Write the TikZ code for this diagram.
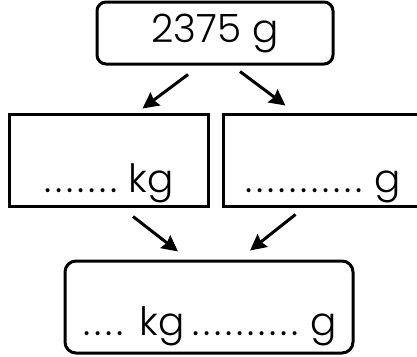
\documentclass[tikz,border=0pt]{standalone}
\usepackage{fontspec}
\setmainfont{Poppins}[UprightFont=* Light]
\usetikzlibrary{arrows.meta}

% a row of evenly spaced dots to write the answer on
\newcommand\dotrow[1]{\foreach \i in {1,...,#1}{\makebox[11pt][c]{.}}}

\begin{document}
\begin{tikzpicture}[x=1pt,y=-1pt,->,>={Stealth[length=16pt,width=16pt,inset=2pt]},
  line width=3pt,font=\fontsize{39}{44}\selectfont,
  start box/.style={draw,rounded corners=9pt,minimum width=236pt,minimum height=62pt},
  part box/.style={draw,inner xsep=0pt,inner ysep=0pt,minimum width=199pt,
    text height=78pt,text depth=14pt},
  sum box/.style={draw,rounded corners=11pt,inner xsep=0pt,inner ysep=0pt,
    minimum width=288pt,text height=74pt,text depth=18pt}]

  \useasboundingbox (0,0) rectangle (417,356);

  \node[start box] (grams) at (215,33) {2375 g};
  \node[part box] (kg) at (108.5,160) {\dotrow{7}\hspace{9pt}kg};
  \node[part box] (g) at (322.5,160) {\dotrow{11}\hspace{10pt}g};
  \node[sum box] (total) at (209,307)
    {\dotrow{4}\hspace{14pt}kg\hspace{6pt}\dotrow{10}\hspace{10pt}g};

  \draw ([xshift=-27pt,yshift=-9pt]grams.south) -- ([xshift=34pt,yshift=4pt]kg.north);
  \draw ([xshift=25pt,yshift=-6pt]grams.south) -- ([xshift=-37pt,yshift=7pt]g.north);
  \draw ([xshift=24.5pt,yshift=-9pt]kg.south) -- ([xshift=-31pt,yshift=8pt]total.north);
  \draw ([xshift=-27pt,yshift=-7pt]g.south) -- ([xshift=41pt,yshift=9pt]total.north);
\end{tikzpicture}
\end{document}
